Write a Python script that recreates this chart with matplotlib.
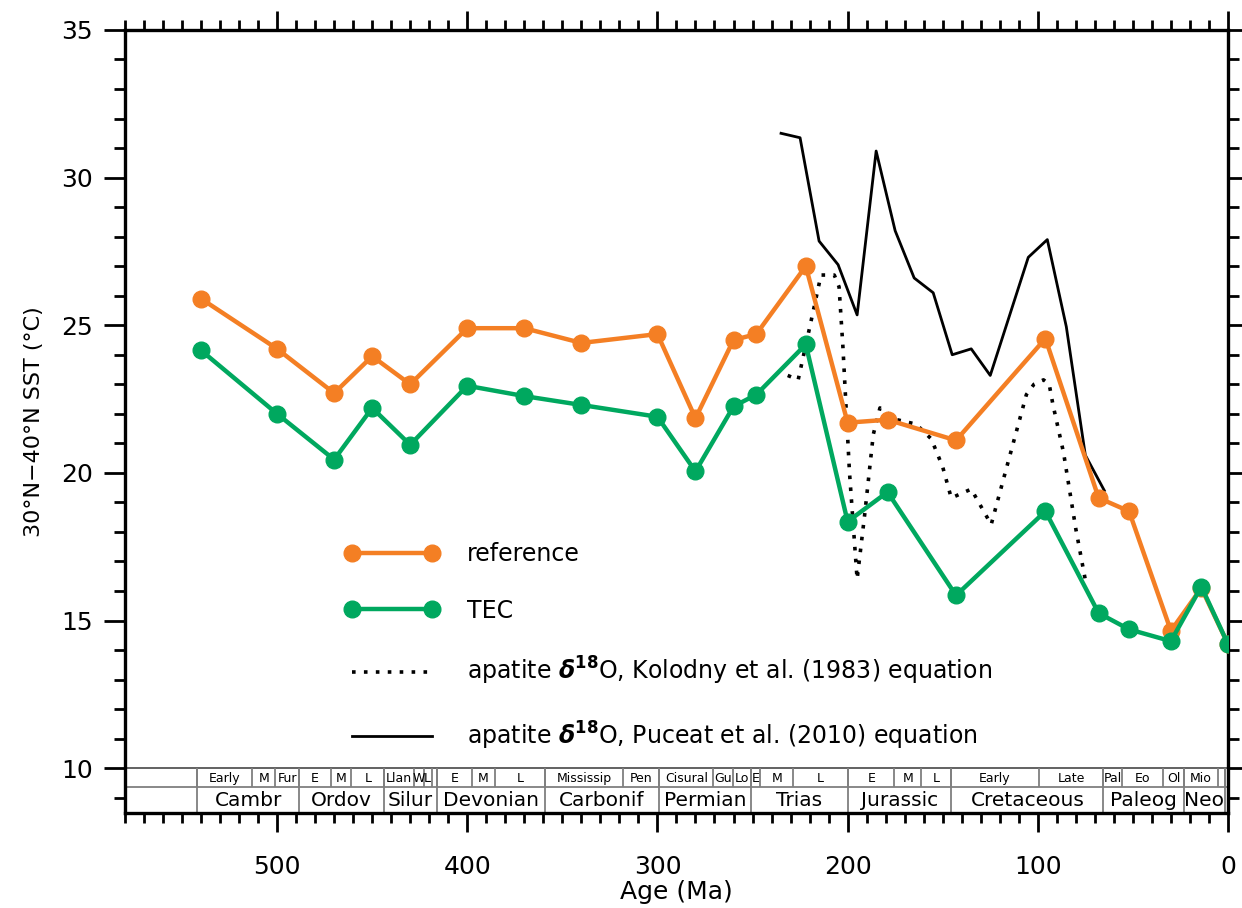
import matplotlib
matplotlib.use("Agg")
import matplotlib.pyplot as plt
from matplotlib.ticker import MultipleLocator

# -- Model SST series (30N-40N band mean) -------------------------------------
ages = [540, 500, 470, 450, 430, 400, 370, 340, 300, 280, 260, 248,
        222, 200, 179, 143, 96, 68, 52, 30, 14, 0]
sst_reference = [25.9, 24.2, 22.7, 23.95, 23.0, 24.9, 24.9, 24.4, 24.7, 21.85,
                 24.5, 24.7, 27.0, 21.7, 21.8, 21.1, 24.55, 19.15, 18.7, 14.65,
                 16.1, 14.2]
sst_tec = [24.15, 22.0, 20.45, 22.2, 20.95, 22.95, 22.6, 22.3, 21.9, 20.05,
           22.25, 22.65, 24.35, 18.35, 19.35, 15.85, 18.7, 15.25, 14.7, 14.3,
           16.15, 14.2]

# -- Apatite d18O reconstructions ----------------------------------------------
puceat_age = [235, 225, 215, 205, 195, 185, 175, 165, 155, 145, 135, 125,
              115, 105, 95, 85, 75, 65]
puceat_sst = [31.5, 31.35, 27.85, 27.05, 25.35, 30.9, 28.2, 26.6, 26.1, 24.0,
              24.2, 23.3, 25.3, 27.3, 27.9, 24.95, 20.6, 19.4]

kolodny_age = [231.5, 226, 218, 214, 207, 204.5, 202.5, 199, 195, 191, 186.5,
               183, 174, 164, 156, 150, 145.5, 135, 124.5, 118, 110, 106, 102,
               97, 94, 92, 86.5, 80, 74.5]
kolodny_sst = [23.3, 23.15, 25.5, 26.7, 26.7, 26.3, 24.3, 20.0, 16.4, 18.6,
               21.3, 22.2, 21.8, 21.65, 21.15, 20.2, 19.15, 19.45, 18.25, 19.8,
               21.7, 22.65, 23.0, 23.15, 23.0, 22.3, 20.7, 18.1, 16.2]

# -- Geologic timescale (GTS2004) ----------------------------------------------
period_names = ["Cambr", "Ordov", "Silur", "Devonian", "Carbonif", "Permian",
                "Trias", "Jurassic", "Cretaceous", "Paleog", "Neo", ""]
period_bounds = [542, 488.3, 443.7, 416.0, 359.2, 299.0, 251.0, 199.6, 145.5,
                 65.5, 23.03, 1.806, 0]

epoch_names = ["Early", "M", "Fur",
               "E", "M", "L",
               "Llan", "W", "L", "",
               "E", "M", "L",
               "Mississip", "Pen",
               "Cisural", "Gu", "Lo",
               "E", "M", "L",
               "E", "M", "L",
               "Early", "Late",
               "Pal", "Eo", "Ol",
               "Mio", "", ""]
epoch_bounds = [542, 513, 501,
                488.3, 471.8, 460.9,
                443.7, 428.2, 422.9, 418.7,
                416.0, 397.5, 385.3,
                359.2, 318.1,
                299.0, 270.6, 260.4,
                251.0, 245.9, 228.7,
                199.6, 175.6, 161.2,
                145.5, 99.6,
                65.5, 55.8, 33.9,
                23.03, 5.332, 1.806, 0]

ORANGE = "#f47f24"
GREEN = "#00a85f"
GRID_GREY = "#7f7f7f"

XMAX, XMIN = 580, 0
YMIN, YMAX = 8.48, 35
BAR_TOP, BAR_MID = 10.0, 9.37

plt.rcParams["font.family"] = "DejaVu Sans"

fig = plt.figure(figsize=(12.42, 9.08), dpi=100)
ax = fig.add_axes([0.1006, 0.1046, 0.8881, 0.8624])

# -- Data lines ----------------------------------------------------------------
ax.plot(kolodny_age, kolodny_sst, color="black", lw=2.6,
        linestyle=(0, (1.0, 2.3)), dash_capstyle="butt", zorder=2,
        label=r"apatite $\boldsymbol{\delta}^{\mathbf{18}}$O, Kolodny et al. (1983) equation")
ax.plot(puceat_age, puceat_sst, color="black", lw=2.0, zorder=2,
        label=r"apatite $\boldsymbol{\delta}^{\mathbf{18}}$O, Puceat et al. (2010) equation")
ax.plot(ages, sst_reference, color=ORANGE, lw=3.2, marker="o", ms=12,
        zorder=3, label="reference")
ax.plot(ages, sst_tec, color=GREEN, lw=3.2, marker="o", ms=12,
        zorder=4, label="TEC")

# -- Timescale bar along the bottom ------------------------------------------
ax.plot([XMAX, XMIN], [BAR_TOP, BAR_TOP], color="#555555", lw=1.3, zorder=1)
ax.plot([XMAX, XMIN], [BAR_MID, BAR_MID], color=GRID_GREY, lw=1.3, zorder=1)
ax.vlines(period_bounds, YMIN, BAR_TOP, color=GRID_GREY, lw=1.3, zorder=1)
ax.vlines(epoch_bounds, BAR_MID, BAR_TOP, color=GRID_GREY, lw=1.3, zorder=1)
for name, a0, a1 in zip(period_names, period_bounds[:-1], period_bounds[1:]):
    ax.text((a0 + a1) / 2, (YMIN + BAR_MID) / 2 - 0.02, name, ha="center",
            va="center", fontsize=14.5)
for name, a0, a1 in zip(epoch_names, epoch_bounds[:-1], epoch_bounds[1:]):
    ax.text((a0 + a1) / 2, (BAR_MID + BAR_TOP) / 2 - 0.02, name, ha="center",
            va="center", fontsize=9)

# -- Axes styling --------------------------------------------------------------
ax.set_xlim(XMAX, XMIN)
ax.set_ylim(YMIN, YMAX)
ax.xaxis.set_major_locator(MultipleLocator(100))
ax.xaxis.set_minor_locator(MultipleLocator(10))
ax.yaxis.set_major_locator(MultipleLocator(5))
ax.yaxis.set_minor_locator(MultipleLocator(1))
ax.set_yticks([10, 15, 20, 25, 30, 35])

for spine in ax.spines.values():
    spine.set_linewidth(2.4)
ax.tick_params(axis="x", which="both", direction="out", top=True, bottom=True,
               width=2.0, labelsize=18, pad=16)
ax.tick_params(axis="x", which="major", length=14)
ax.tick_params(axis="x", which="minor", length=7)
ax.tick_params(axis="y", which="both", direction="out", left=True, right=True,
               width=2.0, labelsize=18, pad=8)
ax.tick_params(axis="y", which="major", length=15)
ax.tick_params(axis="y", which="minor", length=8)

ax.set_xlabel("Age (Ma)", fontsize=18, labelpad=1)
ax.set_ylabel("30°N\u221240°N SST (°C)", fontsize=16, labelpad=12)

handles, labels = ax.get_legend_handles_labels()
order = [2, 3, 0, 1]
ax.legend([handles[i] for i in order], [labels[i] for i in order],
          loc="upper left", bbox_to_anchor=(0.1997, 0.3462), frameon=False,
          fontsize=17, numpoints=2, handlelength=3.96, handletextpad=1.2,
          labelspacing=1.38, borderpad=0, borderaxespad=0)

fig.savefig("out.png", dpi=100)
